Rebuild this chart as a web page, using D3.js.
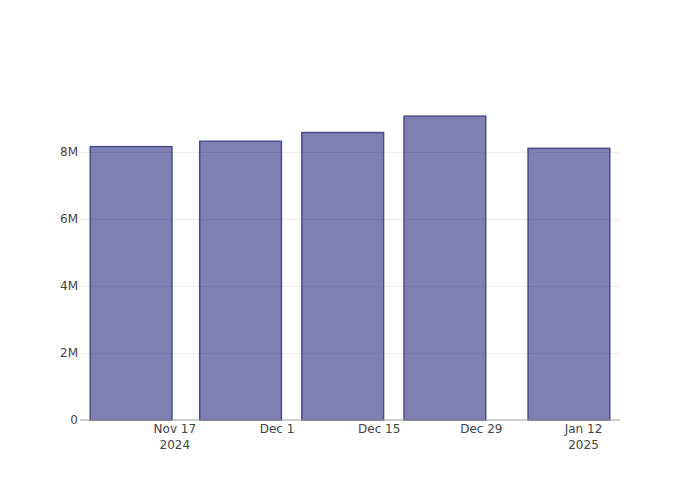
<!DOCTYPE html>
<html>
<head>
<meta charset="utf-8">
<script src="https://cdn.jsdelivr.net/npm/d3@7"></script>
<style>
  html, body { margin: 0; padding: 0; background: #fff; }
  text { font-family: "DejaVu Sans", Verdana, sans-serif; }
</style>
</head>
<body>
<svg id="chart" width="700" height="500"></svg>
<script>
// ---- data ----
const dates = ["2024-11-11", "2024-11-26", "2024-12-10", "2024-12-24", "2025-01-10"];
const values = [8150000, 8310000, 8570000, 9060000, 8100000];
const xTickDates = ["2024-11-17", "2024-12-01", "2024-12-15", "2024-12-29", "2025-01-12"];
const xTickLabels = [["Nov 17", "2024"], ["Dec 1"], ["Dec 15"], ["Dec 29"], ["Jan 12", "2025"]];
const yTickValues = [0, 2000000, 4000000, 6000000, 8000000];
const yTickLabels = ["0", "2M", "4M", "6M", "8M"];

// ---- layout ----
const W = 700, H = 500;
const m = { l: 80, r: 80, t: 100, b: 80 };
const DAY = 86400000;
const parse = s => new Date(s + "T00:00:00Z");

const svg = d3.select("#chart");

const x = d3.scaleUtc()
  .domain([new Date(parse(dates[0]).getTime() - 7 * DAY), new Date(parse(dates[dates.length - 1]).getTime() + 7 * DAY)])
  .range([m.l, W - m.r]);
const y = d3.scaleLinear().domain([0, 9540000]).range([H - m.b, m.t]);

// gridlines
svg.append("g").selectAll("line")
  .data(yTickValues.filter(v => v > 0))
  .join("line")
  .attr("x1", m.l).attr("x2", W - m.r)
  .attr("y1", d => Math.round(y(d)) + 0.5).attr("y2", d => Math.round(y(d)) + 0.5)
  .attr("stroke", "#eeeeee").attr("stroke-width", 1);

// bars
const halfW = 5.6 * DAY;
svg.append("g").selectAll("rect")
  .data(dates.map((d, i) => ({ date: parse(d), value: values[i] })))
  .join("rect")
  .attr("x", d => x(new Date(d.date.getTime() - halfW)))
  .attr("width", d => x(new Date(d.date.getTime() + halfW)) - x(new Date(d.date.getTime() - halfW)))
  .attr("y", d => y(d.value))
  .attr("height", d => y(0) - y(d.value))
  .attr("fill", "rgb(0,0,100)")
  .attr("fill-opacity", 0.5)
  .attr("stroke", "#4d4d8c")
  .attr("stroke-width", 1.5);

// x axis line
svg.append("line")
  .attr("x1", m.l).attr("x2", W - m.r)
  .attr("y1", y(0)).attr("y2", y(0))
  .attr("stroke", "#999").attr("stroke-width", 1.2);

// y tick labels
svg.append("g").selectAll("text")
  .data(yTickValues)
  .join("text")
  .attr("x", m.l - 2)
  .attr("y", d => y(d))
  .attr("dy", "0.36em")
  .attr("text-anchor", "end")
  .attr("font-size", 12)
  .attr("fill", "#444")
  .text((d, i) => yTickLabels[i]);

// x tick labels
const xg = svg.append("g").selectAll("text")
  .data(xTickDates)
  .join("text")
  .attr("text-anchor", "middle")
  .attr("font-size", 12)
  .attr("fill", "#444");
xg.each(function (d, i) {
  const t = d3.select(this);
  const cx = x(parse(d));
  xTickLabels[i].forEach((line, j) => {
    t.append("tspan").attr("x", cx).attr("y", 433 + j * 15.5).text(line);
  });
});
</script>
</body>
</html>
